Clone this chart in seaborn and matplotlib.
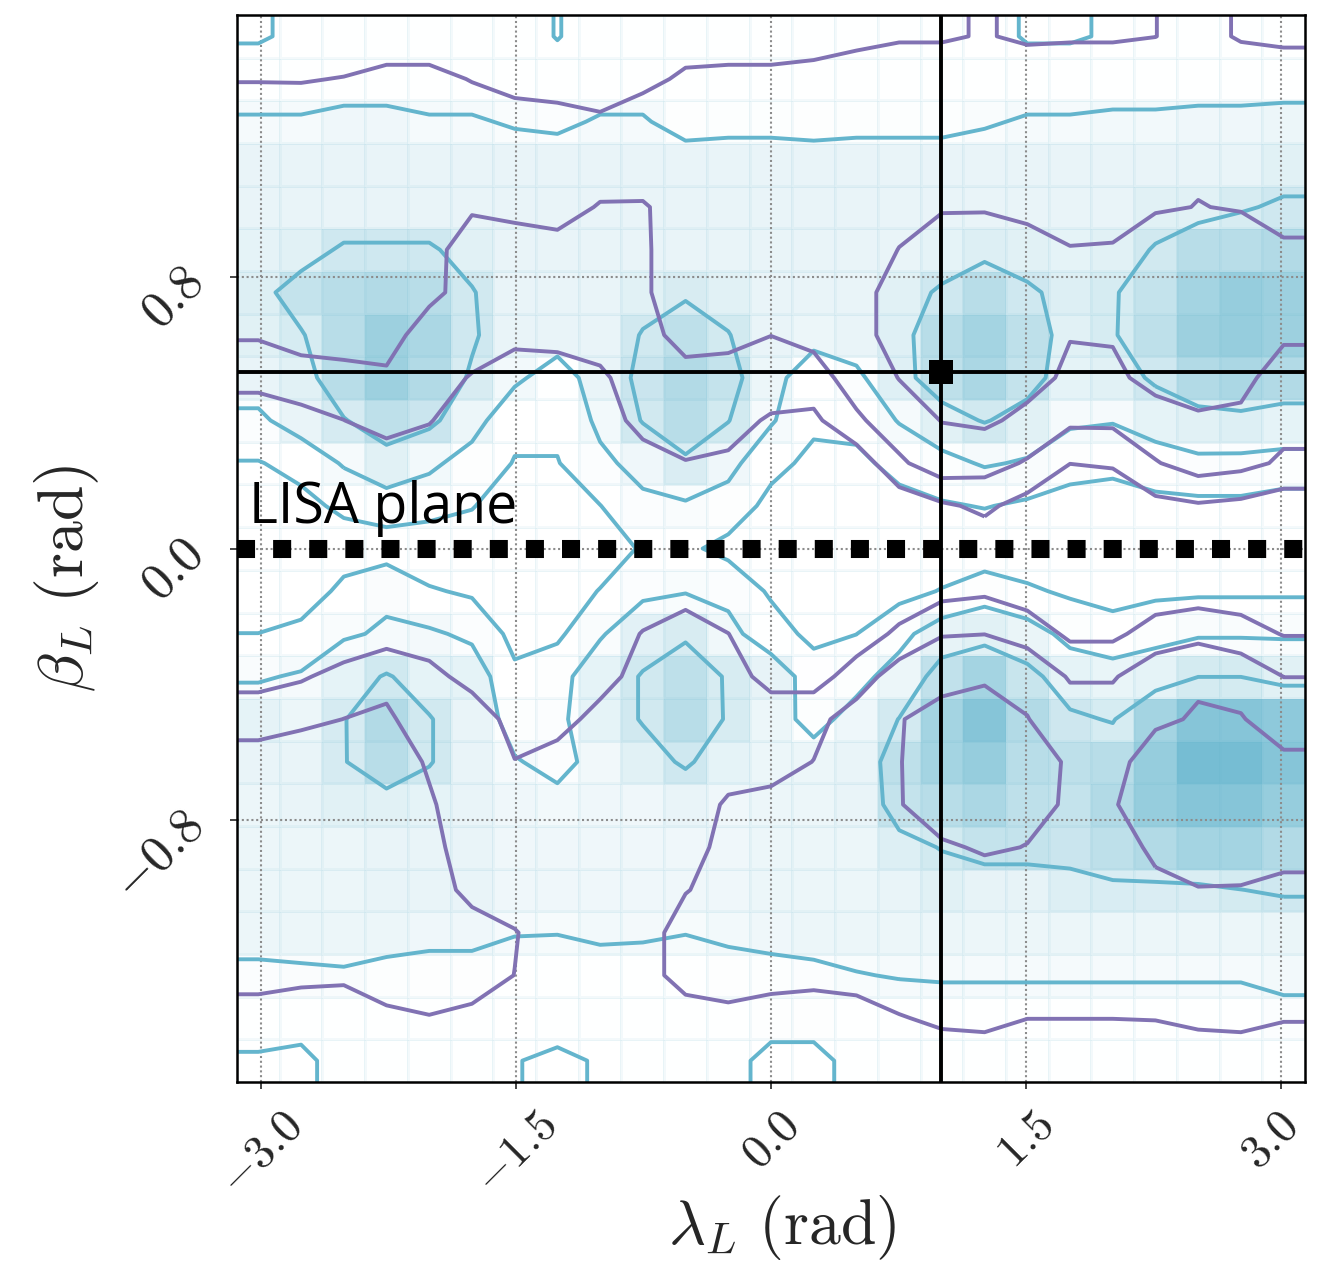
import numpy as np
import matplotlib
matplotlib.use("Agg")
import matplotlib.pyplot as plt
import matplotlib.transforms as mtransforms
import seaborn as sns
from matplotlib.colors import LinearSegmentedColormap, PowerNorm

# ---------------- data ----------------
lambda_ticks = [-3.0, -1.5, 0.0, 1.5, 3.0]
lambda_tick_labels = [r"$-3.0$", r"$-1.5$", r"$0.0$", r"$1.5$", r"$3.0$"]
beta_ticks = [-0.8, 0.0, 0.8]
beta_tick_labels = [r"$-0.8$", r"$0.0$", r"$0.8$"]
true_lambda = 1.0
true_beta = 0.52
lisa_plane_beta = 0.0
contour_levels = [10, 20, 30]
n_bins = 25

# density per lambda bin (columns, left -> right); each column lists beta bins from +pi/2 down to -pi/2
cyan_density = [
    [9, 15, 21, 25, 25, 26, 28, 27, 25, 18, 9.5, 6, 3, 4, 10.1, 19, 26, 25, 24, 24, 24, 24, 17.6, 15, 8.7],
    [12, 15, 21, 25, 25, 27, 33, 29.5, 27, 25, 13, 7.3, 3, 4, 13, 21, 24, 25, 25, 24, 24, 24, 18.4, 15, 7],
    [15, 15, 23, 25, 25, 31, 35, 35, 35, 29.6, 21, 12, 5, 12.6, 19, 26, 29.6, 29.6, 27, 24, 24, 24, 19, 15, 15],
    [15, 15, 23, 25, 25, 31, 36, 39, 39, 34, 27, 15, 5, 18.5, 21, 30.7, 36, 35, 27, 25, 25, 24, 17, 15, 15],
    [15, 15, 21, 25, 25, 31, 35, 37, 36, 32, 22, 14, 3, 11, 21.5, 26, 30.5, 30.5, 26, 25, 25, 23, 16, 15, 15],
    [15, 15, 21, 25, 25, 27, 30.5, 31, 29, 24, 16, 10.5, 5, 8.5, 18, 26, 25, 25, 25, 25, 25, 23, 16, 15, 15],
    [15, 15, 19, 25, 25, 25, 25, 25, 22, 12.5, 9.5, 5, 4, 5, 7, 12, 17, 20.5, 23, 23, 23, 20.5, 15, 14, 10.5],
    [9.5, 15, 18, 25, 25, 25, 25, 25, 15, 12.5, 9.5, 5, 4, 5, 8, 16.7, 18, 18, 22, 23, 23, 20.3, 14.3, 15, 7.7],
    [15, 15, 21, 25, 25, 25, 25, 25, 25, 22, 18, 9.8, 5, 10.4, 19, 26, 26, 22.3, 23, 23, 23, 22, 15, 15, 11],
    [15, 15, 21, 25, 25, 25, 27, 30.5, 32, 30.5, 23, 18, 11, 18, 26.7, 30.5, 30.5, 27, 23, 23, 23, 21.5, 15, 15, 15],
    [15, 15, 16, 25, 25, 25, 29, 34, 36, 35, 28.7, 18.8, 12, 19.5, 29, 34, 35, 31, 25, 23, 23, 20.3, 14.3, 15, 15],
    [15, 15, 17, 25, 25, 25, 27, 30.3, 33, 30.3, 23, 16, 7, 17.7, 22.6, 29.3, 29.3, 26, 23, 23, 23, 22, 16, 15, 15],
    [15, 15, 17, 25, 25, 25, 25, 25, 24, 21, 13, 7, 4, 8.5, 15, 25.6, 24, 24, 24, 24, 24, 23, 17, 16, 5.4],
    [15, 15, 16, 25, 25, 25, 25, 24, 13, 12, 7.5, 5, 3, 5, 7, 15.6, 17, 24, 24, 24, 24, 24, 17.7, 16, 5.4],
    [15, 15, 17, 25, 25, 25, 25, 25, 18, 14, 7, 5, 3, 5, 9.9, 17, 23.4, 25, 25, 24, 24, 24, 19.6, 15, 15],
    [15, 15, 17, 25, 25, 25, 27, 27.5, 27.5, 20.5, 14, 6, 4, 7, 17, 24, 30.2, 34, 33, 28, 25, 24, 20.5, 15, 15],
    [15, 15, 17, 25, 25, 26, 31, 35, 34, 27, 17, 9, 4, 10.5, 25.6, 33.5, 38, 38, 35, 30.3, 27, 24, 21, 15, 15],
    [14, 15, 19, 25, 25, 28, 35, 38, 37, 30.5, 21, 10.5, 3, 16, 27, 38, 42, 40, 37, 33, 25.5, 24, 21, 15, 15],
    [9, 15, 21, 25, 25, 27, 31, 34, 33, 27, 19, 8.3, 4, 11.4, 24.6, 32.3, 36, 35, 34, 33, 25.5, 24, 21, 15, 15],
    [9, 15, 21, 25, 25, 26, 28, 27, 26, 21, 16, 4, 3, 8.5, 17, 26, 31.2, 34, 33, 32, 28, 24, 21, 15, 15],
    [11, 15, 22, 25, 25, 27, 29.5, 29.5, 27, 20.5, 14, 3, 3, 7, 13.4, 24.8, 29.5, 35, 36, 34, 28.8, 24, 21, 15, 15],
    [15, 15, 22, 25, 27, 30.5, 33, 34, 31, 26, 14, 8, 4, 8, 17, 26, 38, 40, 40, 36, 28.6, 24, 21, 15, 15],
    [15, 15, 23, 25, 27, 35, 38, 39, 36, 27, 18, 7.6, 4, 8.5, 19, 29.9, 42, 44, 42, 38, 28.7, 24, 21, 15, 15],
    [15, 15, 23, 25, 29.3, 35, 40, 40, 37, 28, 17.6, 7.7, 4, 8.5, 19, 29.9, 42, 44, 42, 38, 29.9, 24, 21, 15, 15],
    [15, 15, 24, 27, 31, 36, 39, 39, 36, 26, 17, 5.3, 4, 8.5, 19, 27, 41, 42, 40, 36, 31, 24.7, 22, 17.7, 15],
]

purple_density = [
    [15, 19.6, 25, 25, 25, 25, 25, 21, 12.7, 5, 4, 4, 4, 4, 4, 6, 16.8, 23.3, 25, 25, 25, 25, 24, 15, 15],
    [15, 19.5, 25, 25, 25, 25, 25, 25, 14.4, 7.4, 4, 4, 4, 4, 4, 9, 17.3, 27.7, 25, 25, 25, 25, 22, 15, 15],
    [15, 20.3, 25, 25, 25, 25, 25, 25, 16.4, 9.9, 4, 4, 4, 4, 4, 13, 20.1, 25, 25, 25, 25, 25, 21.5, 15, 15],
    [15, 22.5, 25, 25, 25, 25, 25, 25, 18, 14, 4.5, 4, 4, 4, 6, 17.4, 21.5, 25, 25, 25, 25, 25, 25, 17.9, 15],
    [15, 22.5, 25, 25, 23, 23, 23, 14, 12.5, 10.5, 5, 4, 4, 4, 4, 13.5, 15, 19, 21, 23, 25, 25, 25, 19.6, 15],
    [15, 19.6, 25, 25, 21, 15.7, 15, 13, 9.6, 5, 4, 4, 4, 4, 4, 6, 16.8, 16, 15, 15, 17, 24.5, 24, 18, 15],
    [15, 16, 25, 25, 22, 16.6, 14, 12, 6, 4, 4, 4, 4, 4, 4, 5, 6, 10.3, 14, 15, 15, 20.5, 19.9, 15, 15],
    [15, 15, 24, 25, 24, 16.5, 14, 13, 5.5, 4, 4, 4, 4, 4, 4, 4, 5, 15.2, 15, 15, 15, 15, 15, 15, 15],
    [15, 15, 21.5, 25, 19.3, 16, 15, 14, 8.4, 4, 4, 4, 4, 4, 4, 5, 14.4, 15, 15, 15, 15, 15, 15, 15, 15],
    [15, 17, 26, 26, 19, 19, 19, 16, 15, 14, 5, 4, 4, 4, 10.5, 15, 15, 15, 15, 15, 15, 15, 15, 15, 15],
    [15, 21.8, 25, 25, 25, 24, 24, 24, 16.2, 15, 9.6, 4, 4, 5, 16.4, 15, 15, 15, 15, 15, 19.5, 25, 25, 14, 15],
    [15, 22.5, 25, 25, 25, 25, 25, 24, 14.5, 13, 8.7, 4, 4, 4, 10.1, 15, 15, 16, 21.2, 24, 24, 24, 24, 17.7, 15],
    [15, 22.5, 25, 25, 25, 25, 25, 20.1, 15, 9, 4, 4, 4, 4, 4, 6, 16.8, 16, 23, 25, 25, 25, 25, 13.6, 15],
    [15, 24, 25, 25, 25, 25, 25, 23, 15.5, 7.9, 4, 4, 4, 4, 4, 6, 16.8, 20.2, 25, 25, 25, 25, 23, 14.4, 15],
    [17, 26, 25, 25, 25, 25, 27.4, 27.4, 25, 18.2, 3.6, 4, 4, 4, 5, 14.4, 25, 25, 25, 25, 25, 25, 24, 15.5, 15],
    [19, 26, 25, 25, 27, 30.2, 33, 33, 30.2, 26.2, 18.2, 3.6, 4, 4, 11.8, 25.5, 29.5, 29.5, 29.5, 26, 25, 25, 25, 19.5, 15],
    [19, 26, 26, 26, 29, 36, 38, 38, 36, 30.2, 26.2, 8.5, 4, 7, 19.5, 27, 33.4, 37, 35, 28.8, 25, 25, 25, 21.5, 15.7],
    [20.6, 26, 27, 27, 29, 37, 40, 40, 38, 31.5, 24, 12, 4, 8.5, 19.9, 28, 37.5, 40, 37, 31, 25.7, 25, 25, 22, 16],
    [18.5, 26, 27, 27, 28, 33, 36, 36, 33, 27.8, 19, 6.1, 4, 5, 16, 28, 30.2, 33, 32, 29.8, 25, 25, 24, 20.1, 15],
    [19, 26, 26, 27, 28, 30.2, 33, 30.3, 28.4, 22, 10.1, 4, 4, 4, 8, 19, 26, 29.2, 29.2, 27, 25, 25, 25, 20.1, 15],
    [19, 26, 26, 27, 28, 30.4, 33, 30.5, 28.7, 22, 11, 3, 4, 4, 8, 19, 26, 26, 29, 25.3, 25, 25, 25, 20.1, 15],
    [19.9, 26, 27, 28, 29, 36, 38, 38, 32, 27.2, 19.3, 7.2, 4, 5, 14, 27, 28, 36, 37, 32, 27.7, 25, 24, 20.3, 15],
    [23, 27, 28, 29, 30.2, 37, 40, 40, 36, 28.2, 24.8, 8.9, 4, 5, 17.5, 28.4, 31.1, 38, 40, 36, 29.5, 25, 24, 21.5, 16],
    [19.1, 26, 27, 28, 29.5, 34, 38, 38, 34, 27.1, 22.9, 7.5, 4, 5, 14, 27, 30.5, 36, 38, 34, 29.5, 25, 24, 22, 16],
    [17.5, 27, 27, 28, 28, 30.8, 34, 32, 23.3, 23, 18.5, 4.3, 4, 4, 9.5, 19.9, 26, 31.6, 34, 31, 29.3, 25, 24, 20.5, 15],
]

# ---------------- style ----------------
sns.set_style("ticks")
palette = sns.color_palette("deep")
cyan = palette[9]
purple = palette[4]
plt.rcParams["mathtext.fontset"] = "cm"
plt.rcParams["font.family"] = ["DejaVu Serif"]

W, H = 1317, 1269
fig = plt.figure(figsize=(W / 100, H / 100), dpi=100)
L, R, T, B = 237, 1305, 15, 1082
ax = fig.add_axes([L / W, 1 - B / H, (R - L) / W, (B - T) / H])

lam_edges = np.linspace(-np.pi, np.pi, n_bins + 1)
beta_edges = np.linspace(-np.pi / 2, np.pi / 2, n_bins + 1)
lam_c = 0.5 * (lam_edges[1:] + lam_edges[:-1])
beta_c = 0.5 * (beta_edges[1:] + beta_edges[:-1])

Zc = np.array(cyan_density, float).T[::-1]     # rows: beta ascending
Zp = np.array(purple_density, float).T[::-1]

# density image (histogram cells)
cmap = LinearSegmentedColormap.from_list("density", [(1, 1, 1), cyan])
ax.pcolormesh(lam_edges, beta_edges, Zc, cmap=cmap,
              norm=PowerNorm(gamma=2.0, vmin=12, vmax=46, clip=True),
              edgecolors=(cyan[0], cyan[1], cyan[2], 0.07), linewidth=0.8, zorder=0.3)


def padded(Z, xc, yc):
    Z2 = Z.min() + np.zeros((Z.shape[0] + 4, Z.shape[1] + 4))
    Z2[2:-2, 2:-2] = Z
    Z2[2:-2, 1] = Z[:, 0]
    Z2[2:-2, -2] = Z[:, -1]
    Z2[1, 2:-2] = Z[0]
    Z2[-2, 2:-2] = Z[-1]
    Z2[1, 1] = Z[0, 0]
    Z2[1, -2] = Z[0, -1]
    Z2[-2, 1] = Z[-1, 0]
    Z2[-2, -2] = Z[-1, -1]
    dx = xc[1] - xc[0]
    dy = yc[1] - yc[0]
    X2 = np.concatenate([xc[0] + np.array([-2, -1]) * dx, xc, xc[-1] + np.array([1, 2]) * dx])
    Y2 = np.concatenate([yc[0] + np.array([-2, -1]) * dy, yc, yc[-1] + np.array([1, 2]) * dy])
    return X2, Y2, Z2


Xc2, Yc2, Zc2 = padded(Zc, lam_c, beta_c)
Xp2, Yp2, Zp2 = padded(Zp, lam_c, beta_c)
ax.contour(Xc2, Yc2, Zc2, levels=contour_levels, colors=[cyan], linewidths=2.8, zorder=2)
ax.contour(Xp2, Yp2, Zp2, levels=contour_levels, colors=[purple], linewidths=2.8, zorder=2.1)

# injection crosshair
ax.axvline(true_lambda, color="k", lw=2.8, zorder=3)
ax.axhline(true_beta, color="k", lw=2.8, zorder=3)
sns.scatterplot(x=[true_lambda], y=[true_beta], marker="s", s=300, color="k",
                edgecolor="k", linewidth=0, ax=ax, zorder=4, legend=False)

# LISA plane
ax.axhline(lisa_plane_beta, color="k", lw=13, linestyle=(0, (1, 1)),
           dash_capstyle="butt", zorder=3)
ax.text(-3.07, 0.074, "LISA plane", fontsize=40, family=["Open Sans", "DejaVu Sans"],
        color="k", va="baseline", ha="left", zorder=5)

ax.set_xlim(-np.pi, np.pi)
ax.set_ylim(-np.pi / 2, np.pi / 2)
ax.set_xticks(lambda_ticks)
ax.set_xticklabels(lambda_tick_labels, rotation=45, fontsize=34)
ax.set_yticks(beta_ticks)
ax.set_yticklabels(beta_tick_labels, rotation=45, fontsize=37)
ax.tick_params(axis="x", direction="out", length=5, width=1.2, pad=10)
ax.tick_params(axis="y", direction="out", length=5, width=1.2, pad=12)
# keep the right-most rotated label inside the canvas
last = ax.get_xticklabels()[-1]
last.set_transform(last.get_transform() + mtransforms.ScaledTranslation(-8 / 72, 0, fig.dpi_scale_trans))

ax.set_axisbelow("line")
ax.grid(True, linestyle=(0, (1, 1.3)), color="0.55", lw=1.5)
for s in ax.spines.values():
    s.set_linewidth(1.8)
    s.set_color("k")

ax.set_xlabel(r"$\lambda_L\ \mathrm{(rad)}$", fontsize=46)
ax.set_ylabel(r"$\beta_L\ \mathrm{(rad)}$", fontsize=46)
ax.xaxis.set_label_coords(0.51, -0.104)
ax.yaxis.set_label_coords(-0.127, 0.472)

fig.savefig("out.png", dpi=100)
